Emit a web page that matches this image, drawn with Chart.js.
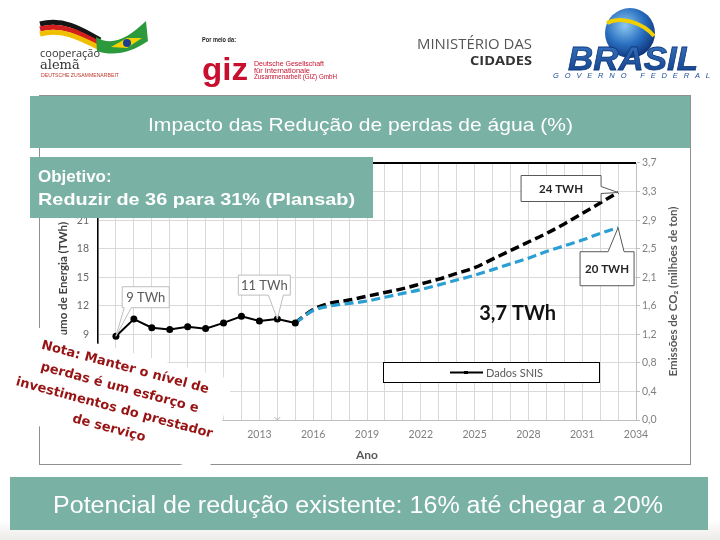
<!DOCTYPE html>
<html>
<head>
<meta charset="utf-8">
<script src="https://cdn.jsdelivr.net/npm/chart.js@4.4.1/dist/chart.umd.min.js"></script>
<style>
  html, body { margin:0; padding:0; width:720px; height:540px; overflow:hidden; background:#fff; }
  #frame { position:absolute; left:39px; top:95px; width:652px; height:370px; box-sizing:border-box;
           border:1px solid #8f8f8f; background:#fff; z-index:0; }
  #wrap { position:absolute; left:0; top:0; width:720px; height:540px; z-index:1; }
  #over { position:absolute; left:0; top:0; z-index:2; pointer-events:none; }
  #bgfade { position:absolute; left:0; top:520px; width:720px; height:20px; z-index:0;
            background:linear-gradient(#fff,#ecebe8); }
</style>
</head>
<body>
<div id="bgfade"></div>
<div id="frame"></div>
<div id="wrap"><canvas id="c" width="720" height="540"></canvas></div>

<svg id="over" width="720" height="540" xmlns="http://www.w3.org/2000/svg">
  <defs>
    <radialGradient id="globe" cx="40%" cy="35%" r="70%">
      <stop offset="0" stop-color="#8cc8f0"/>
      <stop offset="0.55" stop-color="#2a6fc0"/>
      <stop offset="1" stop-color="#0c2f73"/>
    </radialGradient>
    <linearGradient id="brasilTxt" x1="0" y1="0" x2="0" y2="1">
      <stop offset="0" stop-color="#3b78c4"/>
      <stop offset="1" stop-color="#123f86"/>
    </linearGradient>
  </defs>

  <!-- cooperação alemã -->
  <path d="M40,24 C62,18 80,28 100,40" stroke="#151515" stroke-width="5" fill="none"/>
  <path d="M40,29 C62,23 80,33 100,44" stroke="#d41f1f" stroke-width="5" fill="none"/>
  <path d="M40,34 C62,28 80,38 100,48" stroke="#f0c000" stroke-width="5" fill="none"/>
  <path d="M96,37 C112,47 128,38 146,21 L148,41 C132,52 114,57 97,51 Z" fill="#2c9a3c"/>
  <path d="M111,47 L127,38 L142,38 L127,48 Z" fill="#f4d200"/>
  <circle cx="127" cy="43" r="4" fill="#1b3f91"/>
  <text x="40" y="57" font-family="Open Sans, sans-serif" font-size="11" fill="#333">cooperação</text>
  <text x="40" y="69" font-family="DejaVu Serif, serif" font-size="13" fill="#333">alemã</text>
  <text x="41" y="77" font-family="Liberation Sans, sans-serif" font-size="5" fill="#c0392b" textLength="78" lengthAdjust="spacingAndGlyphs">DEUTSCHE ZUSAMMENARBEIT</text>

  <!-- giz -->
  <text x="202" y="42" font-family="Liberation Sans, sans-serif" font-weight="bold" font-size="8" fill="#222" textLength="34" lengthAdjust="spacingAndGlyphs">Por meio da:</text>
  <text x="202" y="80" font-family="Liberation Sans, sans-serif" font-weight="bold" font-size="31" fill="#c8102e" textLength="46" lengthAdjust="spacingAndGlyphs">giz</text>
  <text x="254" y="66" font-family="Liberation Sans, sans-serif" font-size="6.5" fill="#c8102e" textLength="70" lengthAdjust="spacingAndGlyphs">Deutsche Gesellschaft</text>
  <text x="254" y="72.5" font-family="Liberation Sans, sans-serif" font-size="6.5" fill="#c8102e" textLength="56" lengthAdjust="spacingAndGlyphs">für Internationale</text>
  <text x="254" y="79" font-family="Liberation Sans, sans-serif" font-size="6.5" fill="#c8102e" textLength="83" lengthAdjust="spacingAndGlyphs">Zusammenarbeit (GIZ) GmbH</text>

  <!-- Ministério das Cidades -->
  <text x="532" y="49" text-anchor="end" font-family="Open Sans, sans-serif" font-size="14" fill="#555" textLength="115" lengthAdjust="spacingAndGlyphs">MINISTÉRIO DAS</text>
  <text x="532" y="65" text-anchor="end" font-family="Open Sans, sans-serif" font-weight="bold" font-size="13" fill="#333" textLength="62" lengthAdjust="spacingAndGlyphs">CIDADES</text>

  <!-- Brasil Governo Federal -->
  <circle cx="630" cy="33" r="25" fill="url(#globe)"/>
  <path d="M607,23 C620,16 642,22 654,36" stroke="#f2d000" stroke-width="4" fill="none"/>
  <text x="568" y="70" font-family="Liberation Sans, sans-serif" font-weight="bold" font-style="italic" font-size="34" fill="url(#brasilTxt)" stroke="#0f3a80" stroke-width="0.8" textLength="130" lengthAdjust="spacingAndGlyphs">BRASIL</text>
  <text x="553" y="78" font-family="Liberation Sans, sans-serif" font-style="italic" font-size="7.5" fill="#1d4f9a" textLength="157" lengthAdjust="spacing">GOVERNO  FEDERAL</text>

  <!-- title banner -->
  <rect x="30" y="96" width="660" height="52" fill="#79b1a4"/>
  <text x="148" y="131" font-family="Liberation Sans, Arial, sans-serif" font-size="19" fill="#fff" textLength="425" lengthAdjust="spacingAndGlyphs">Impacto das Redução de perdas de água (%)</text>

  <!-- objetivo box -->
  <rect x="30" y="157" width="343" height="61" fill="#79b1a4"/>
  <text x="38" y="182" font-family="Liberation Sans, Arial, sans-serif" font-weight="bold" font-size="17" fill="#fff">Objetivo:</text>
  <text x="38" y="205" font-family="Liberation Sans, Arial, sans-serif" font-weight="bold" font-size="17" fill="#fff" textLength="317" lengthAdjust="spacingAndGlyphs">Reduzir de 36 para 31% (Plansab)</text>

  <!-- bottom banner -->
  <rect x="10" y="477" width="698" height="53" fill="#79b1a4"/>
  <text x="53" y="513" font-family="Liberation Sans, Arial, sans-serif" font-size="23" fill="#fff" textLength="610" lengthAdjust="spacingAndGlyphs">Potencial de redução existente: 16% até chegar a 20%</text>
</svg>

<script>
// ---------- data ----------
const snisYears   = [2005, 2006, 2007, 2008, 2009, 2010, 2011, 2012, 2013, 2014, 2015];
const snisValues  = [8.8, 10.6, 9.7, 9.5, 9.8, 9.6, 10.2, 10.9, 10.4, 10.6, 10.2];

const projYears   = [2015, 2016, 2017, 2018, 2019, 2020, 2021, 2022, 2023, 2024,
                     2025, 2026, 2027, 2028, 2029, 2030, 2031, 2032, 2033];
const projSemReducao = [10.2, 11.6, 12.3, 12.6, 13.0, 13.4, 13.8, 14.3, 14.8, 15.4,
                        16.0, 16.9, 17.8, 18.7, 19.6, 20.6, 21.7, 22.8, 23.9];
const projComReducao = [10.2, 11.5, 12.0, 12.25, 12.5, 12.9, 13.3, 13.7, 14.2, 14.7,
                        15.2, 15.8, 16.4, 17.0, 17.7, 18.3, 18.9, 19.6, 20.2];

const markerYears  = [2014];
const markerValues = [0];

const xTickYears      = [2004, 2007, 2010, 2013, 2016, 2019, 2022, 2025, 2028, 2031, 2034];
const leftTickValues  = [0, 3, 6, 9, 12, 15, 18, 21, 24, 27];
const rightTickLabels = ['0,0', '0,4', '0,8', '1,2', '1,6', '2,1', '2,5', '2,9', '3,3', '3,7'];
const rightMax = 3.7;

const seriesNames   = ['Dados SNIS', 'Projeção sem redução', 'Projeção com redução', ''];
const calloutTexts  = ['9 TWh', '11 TWh', '24 TWH', '20 TWH'];
const calloutRefs   = [[0, 0], [0, 9], [1, 18], [2, 18]];   // [dataset, point]
const gapLabel      = '3,7 TWh';
const gapAnchor     = [2027.4, 11.2];                         // [year, TWh]
const axisTitles    = ['Consumo de Energia (TWh)', 'Emissões de CO₂ (milhões de ton)', 'Ano'];
const noteLines     = ['Nota: Manter o nível de', 'perdas é um esforço e',
                       'investimentos do prestador', 'de serviço'];

const pts = (xs, ys) => xs.map((x, i) => ({ x: x, y: ys[i] }));

// ---------- overlay plugin ----------
const overlay = {
  id: 'overlay',
  afterDatasetsDraw(chart) {
    const ctx = chart.ctx;
    const xs = chart.scales.x, ys = chart.scales.y;
    const geom = [
      { dx: 6.3,  dy: -49.5, w: 47, h: 21, edge: 'bottom', b0: 2,  b1: 9,  bold: false },
      { dx: -39,  dy: -44,   w: 52, h: 20, edge: 'bottom', b0: 30, b1: 45, bold: false },
      { dx: -97,  dy: -17,   w: 80, h: 26, edge: 'right',  b0: 11, b1: 18, bold: true },
      { dx: -38,  dy: 24,    w: 54, h: 34, edge: 'top',    b0: 28, b1: 44, bold: true }
    ];
    calloutRefs.forEach((ref, i) => {
      const el = chart.getDatasetMeta(ref[0]).data[ref[1]];
      const tx = el.x, ty = el.y, g = geom[i];
      const x = tx + g.dx, y = ty + g.dy, w = g.w, h = g.h;
      ctx.save();
      ctx.beginPath();
      if (g.edge === 'bottom') {
        ctx.moveTo(x, y); ctx.lineTo(x + w, y); ctx.lineTo(x + w, y + h);
        ctx.lineTo(x + g.b1, y + h); ctx.lineTo(tx, ty); ctx.lineTo(x + g.b0, y + h);
        ctx.lineTo(x, y + h);
      } else if (g.edge === 'right') {
        ctx.moveTo(x, y); ctx.lineTo(x + w, y); ctx.lineTo(x + w, y + g.b0);
        ctx.lineTo(tx, ty); ctx.lineTo(x + w, y + g.b1); ctx.lineTo(x + w, y + h);
        ctx.lineTo(x, y + h);
      } else {
        ctx.moveTo(x, y); ctx.lineTo(x + g.b0, y); ctx.lineTo(tx, ty);
        ctx.lineTo(x + g.b1, y); ctx.lineTo(x + w, y); ctx.lineTo(x + w, y + h);
        ctx.lineTo(x, y + h);
      }
      ctx.closePath();
      ctx.fillStyle = '#fff';
      ctx.fill();
      ctx.lineWidth = 1;
      ctx.strokeStyle = g.bold ? '#595959' : '#bdbdbd';
      ctx.stroke();
      ctx.fillStyle = g.bold ? '#262626' : '#595959';
      ctx.font = g.bold ? 'bold 11.5px Lato, sans-serif' : '13px Lato, sans-serif';
      ctx.textAlign = 'center';
      ctx.textBaseline = 'middle';
      ctx.fillText(calloutTexts[i], x + w / 2, y + h / 2 + 0.5);
      ctx.restore();
    });

    // gap label
    ctx.save();
    ctx.font = 'bold 20px Lato, sans-serif';
    ctx.fillStyle = '#111';
    ctx.textAlign = 'center';
    ctx.textBaseline = 'middle';
    ctx.fillText(gapLabel, xs.getPixelForValue(gapAnchor[0]), ys.getPixelForValue(gapAnchor[1]));
    ctx.restore();

    // legend
    ctx.save();
    ctx.fillStyle = '#fff';
    ctx.fillRect(383, 362, 216, 20);
    ctx.strokeStyle = '#000';
    ctx.lineWidth = 1;
    ctx.strokeRect(383.5, 362.5, 216, 20);
    ctx.beginPath();
    ctx.moveTo(450, 372.5); ctx.lineTo(483, 372.5);
    ctx.lineWidth = 2; ctx.stroke();
    ctx.fillStyle = '#000';
    ctx.fillRect(464, 371, 4, 3);
    ctx.font = '11px Lato, sans-serif';
    ctx.fillStyle = '#595959';
    ctx.textBaseline = 'middle';
    ctx.textAlign = 'left';
    ctx.fillText(chart.data.datasets[0].label, 486, 373);
    ctx.restore();

    // right axis title (reads bottom-to-top)
    const ca = chart.chartArea;
    ctx.save();
    ctx.translate(673, (ca.top + ca.bottom) / 2);
    ctx.rotate(-Math.PI / 2);
    ctx.font = 'bold 11.5px Lato, sans-serif';
    ctx.fillStyle = '#595959';
    ctx.textAlign = 'center';
    ctx.textBaseline = 'middle';
    ctx.fillText(axisTitles[1], 0, 0);
    ctx.restore();
  },
  afterDraw(chart) {
    const ctx = chart.ctx;
    const ang = 15 * Math.PI / 180;
    ctx.save();
    ctx.translate(117, 398);
    ctx.rotate(ang);
    ctx.fillStyle = '#fff';
    ctx.fillRect(-107.5, -47.5, 215, 95);
    ctx.font = 'bold 13px "DejaVu Sans", sans-serif';
    ctx.fillStyle = '#981414';
    ctx.textAlign = 'center';
    ctx.textBaseline = 'middle';
    const lh = 21;
    noteLines.forEach((t, i) => {
      ctx.fillText(t, 0, (i - (noteLines.length - 1) / 2) * lh);
    });
    ctx.restore();
  }
};

// ---------- chart ----------
new Chart(document.getElementById('c'), {
  type: 'line',
  data: {
    datasets: [
      { label: seriesNames[0], data: pts(snisYears, snisValues), yAxisID: 'y',
        borderColor: '#000', backgroundColor: '#000', borderWidth: 2,
        pointRadius: 3.5, pointBackgroundColor: '#000', pointBorderWidth: 0, order: 0, tension: 0 },
      { label: seriesNames[1], data: pts(projYears, projSemReducao), yAxisID: 'y',
        borderColor: '#000', borderWidth: 3.5, borderDash: [9, 4.5], pointRadius: 0,
        cubicInterpolationMode: 'monotone', order: 2 },
      { label: seriesNames[2], data: pts(projYears, projComReducao), yAxisID: 'y',
        borderColor: '#2b9fd3', borderWidth: 3.2, borderDash: [9, 4.5], pointRadius: 0,
        cubicInterpolationMode: 'monotone', order: 1 },
      { label: seriesNames[3], data: pts(markerYears, markerValues), yAxisID: 'y',
        showLine: false, pointStyle: 'crossRot', pointRadius: 4,
        pointBorderColor: '#b0b0b0', pointBorderWidth: 1, order: 3 }
    ]
  },
  options: {
    responsive: false,
    animation: false,
    devicePixelRatio: 1,
    layout: { padding: { left: 52, right: 40, top: 163, bottom: 78 } },
    plugins: { legend: { display: false }, tooltip: { enabled: false }, title: { display: false } },
    scales: {
      x: {
        type: 'linear', position: 'bottom', min: 2004, max: 2034,
        afterFit: s => { s.height = 42; },
        ticks: {
          stepSize: 1, autoSkip: false, maxRotation: 0, padding: 8,
          color: '#808080', font: { family: 'Lato', size: 10.5 },
          callback: v => xTickYears.includes(v) ? String(v) : ''
        },
        grid: { color: '#d9d9d9', lineWidth: 1, drawTicks: false },
        border: { color: '#bfbfbf', width: 1 },
        title: { display: true, text: axisTitles[2], color: '#595959',
                 font: { family: 'Lato', size: 12, weight: 'bold' }, padding: { top: 0, bottom: 0 } }
      },
      y: {
        type: 'linear', position: 'left', min: 0, max: 27,
        afterFit: s => { s.width = 46; },
        afterBuildTicks: a => { a.ticks = leftTickValues.map(v => ({ value: v })); },
        ticks: { padding: 9, color: '#666', font: { family: 'Lato', size: 10.5 },
                 callback: v => String(v) },
        grid: {
          drawTicks: false,
          color: c => (c.tick && c.tick.value === 27) ? '#000' : '#d9d9d9',
          lineWidth: c => (c.tick && c.tick.value === 27) ? 2 : 1
        },
        border: { color: '#000', width: 1.5 },
        title: { display: true, text: axisTitles[0], color: '#404040',
                 font: { family: 'Lato', size: 11.5, weight: 'bold' }, padding: { top: 4, bottom: 0 } }
      },
      y1: {
        type: 'linear', position: 'right', min: 0, max: rightMax,
        afterFit: s => { s.width = 44; },
        afterBuildTicks: a => {
          a.ticks = rightTickLabels.map((l, i) => ({ value: i * rightMax / (rightTickLabels.length - 1) }));
        },
        ticks: { padding: 2, color: '#808080', font: { family: 'Lato', size: 10.5 },
                 callback: (v, i) => rightTickLabels[i] },
        grid: { drawOnChartArea: false, drawTicks: true, tickLength: 4, color: '#bfbfbf' },
        border: { color: '#bfbfbf', width: 1 }
      }
    }
  },
  plugins: [overlay]
});
</script>
</body>
</html>
